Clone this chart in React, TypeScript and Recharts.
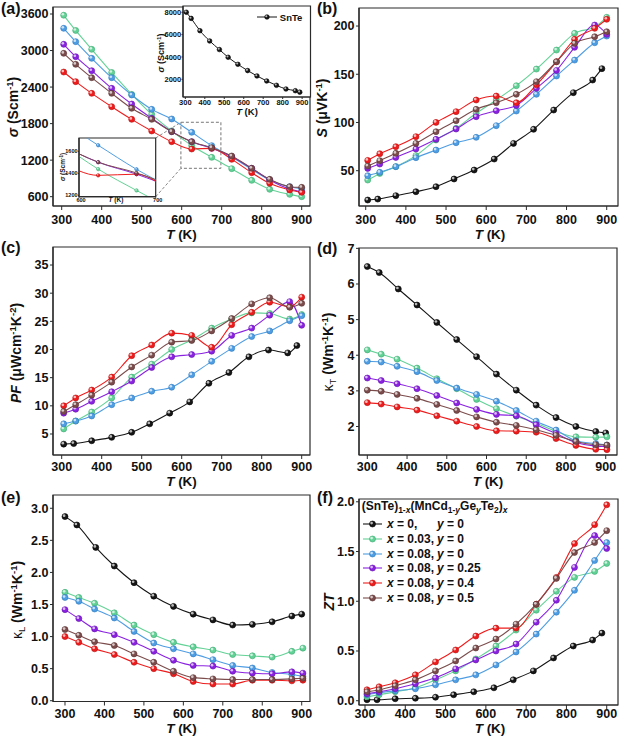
import React from 'react';
import { LineChart, Line, XAxis, YAxis, ReferenceArea, ReferenceLine, Legend } from 'recharts';

const FONT = "'Liberation Sans', Arial, Helvetica, sans-serif";
const AX = '#2b2b2b';

// temperatures (K)
const T_REF = [305, 330, 375, 425, 475, 520, 570, 620, 668, 718, 768, 817, 865, 888];
const T_DOP = [305, 335, 375, 425, 475, 525, 575, 625, 675, 725, 775, 820, 870, 900];
const T_REF_K = [300, 330, 378, 425, 475, 525, 575, 625, 675, 725, 775, 825, 875, 900];
const T_DOP_K = [300, 335, 375, 425, 475, 525, 575, 625, 675, 725, 775, 825, 875, 903];
const X_TICKS = [300, 400, 500, 600, 700, 800, 900];

// samples: (SnTe)1-x(MnCd1-yGeyTe2)x
const SAMPLE_X = ['0', '0.03', '0.08', '0.08', '0.08', '0.08'];
const SAMPLE_Y = ['0', '0', '0', '0.25', '0.4', '0.5'];
const COLORS = ['#161616', '#63d296', '#4f9de2', '#8a22e0', '#ee1c1c', '#7c4c4c'];
const SHADES = ['#000000', '#3aa870', '#2c78c0', '#6510b0', '#b80f0f', '#573030'];

// electrical conductivity (S/cm)
const SIGMA = [
  [8000, 7450, 6350, 5430, 4660, 3970, 3340, 2780, 2300, 1850, 1460, 1130, 980, 850],
  [3580, 3330, 3020, 2640, 2280, 1952, 1680, 1440, 1246, 1060, 868, 721, 638, 600],
  [3365, 3146, 2872, 2554, 2270, 2034, 1876, 1657, 1438, 1250, 1049, 874, 764, 731],
  [3102, 2899, 2669, 2379, 2122, 1887, 1668, 1503, 1394, 1257, 1066, 874, 726, 682],
  [2647, 2489, 2297, 2078, 1870, 1679, 1503, 1383, 1394, 1213, 994, 819, 710, 671],
  [2954, 2773, 2554, 2297, 2051, 1870, 1668, 1503, 1405, 1268, 1066, 885, 764, 753],
];

// Seebeck coefficient (uV/K)
const SEEBECK = [
  [19.6, 20.6, 24.1, 28.2, 33.4, 41.4, 50.7, 62.1, 78.3, 92.9, 112.9, 130.9, 144.0, 155.8],
  [40.3, 47.2, 54.2, 65.6, 81.8, 93.9, 109.5, 123.3, 138.1, 155.4, 175.1, 192.4, 199, 209],
  [44.8, 48.3, 54.2, 63.5, 71.4, 79.0, 84.6, 96.7, 111.9, 129.2, 148.2, 164.7, 182.7, 189.6],
  [52.4, 56.9, 63.8, 72.5, 82.5, 93.2, 106.0, 112.2, 117.7, 135.4, 154.0, 177.9, 201.0, 191.4],
  [60.7, 67.6, 74.9, 85.3, 100.1, 111.2, 123.3, 127.4, 120.5, 139, 163.0, 186.2, 197.6, 207],
  [54.8, 60.4, 68.0, 78.3, 90.4, 101.8, 113.6, 120.5, 129.2, 142.3, 163.0, 182.0, 188.9, 194.1],
];

// power factor (uW cm-1 K-2)
const PF = [
  [3.2, 3.3, 3.8, 4.4, 5.3, 6.8, 8.7, 10.7, 14.0, 15.9, 18.7, 19.9, 19.4, 20.7],
  [5.9, 7.3, 8.9, 11.4, 15.1, 17.4, 20.0, 21.7, 23.8, 25.4, 26.5, 26.4, 25.4, 26.2],
  [6.8, 7.3, 8.2, 10.2, 11.4, 12.6, 13.3, 15.5, 17.9, 20.2, 22.3, 23.3, 25.1, 26.0],
  [8.7, 9.4, 10.8, 12.5, 14.4, 16.8, 18.7, 19.1, 19.7, 22.5, 23.8, 26.1, 28.5, 24.3],
  [10.0, 11.4, 12.8, 15.1, 18.9, 20.8, 22.9, 22.5, 20.4, 24.4, 26.6, 28.4, 27.6, 29.3],
  [9.0, 10.2, 11.9, 14.2, 16.9, 19.0, 21.3, 21.6, 23.3, 25.5, 28.1, 29.2, 27.5, 28.2],
];

// total thermal conductivity (W m-1 K-1)
const KAPPA_T = [
  [6.49, 6.32, 5.86, 5.41, 4.92, 4.44, 3.96, 3.47, 3.02, 2.60, 2.25, 2.00, 1.86, 1.82],
  [4.15, 4.03, 3.89, 3.64, 3.34, 3.06, 2.76, 2.50, 2.29, 2.09, 1.86, 1.71, 1.70, 1.71],
  [3.83, 3.81, 3.69, 3.54, 3.29, 3.08, 2.90, 2.71, 2.45, 2.15, 1.90, 1.60, 1.52, 1.48],
  [3.36, 3.29, 3.20, 3.06, 2.87, 2.66, 2.48, 2.34, 2.30, 2.05, 1.80, 1.55, 1.45, 1.44],
  [2.67, 2.63, 2.55, 2.46, 2.30, 2.15, 2.00, 1.88, 1.87, 1.84, 1.66, 1.47, 1.36, 1.35],
  [3.02, 2.99, 2.90, 2.79, 2.62, 2.45, 2.27, 2.12, 2.03, 1.91, 1.75, 1.58, 1.49, 1.48],
];

// lattice thermal conductivity (W m-1 K-1)
const KAPPA_L = [
  [2.87, 2.74, 2.39, 2.10, 1.84, 1.63, 1.47, 1.35, 1.26, 1.18, 1.19, 1.23, 1.32, 1.35],
  [1.69, 1.61, 1.52, 1.37, 1.18, 1.03, 0.91, 0.84, 0.79, 0.72, 0.70, 0.68, 0.77, 0.82],
  [1.61, 1.55, 1.43, 1.29, 1.08, 0.90, 0.81, 0.73, 0.64, 0.55, 0.51, 0.44, 0.41, 0.38],
  [1.42, 1.28, 1.12, 1.03, 0.91, 0.77, 0.63, 0.55, 0.54, 0.46, 0.43, 0.42, 0.45, 0.43],
  [1.00, 0.91, 0.81, 0.72, 0.60, 0.50, 0.42, 0.30, 0.26, 0.26, 0.32, 0.32, 0.31, 0.32],
  [1.11, 1.02, 0.92, 0.86, 0.73, 0.60, 0.46, 0.36, 0.34, 0.33, 0.33, 0.33, 0.34, 0.35],
];

// figure of merit
const ZT = [
  [0.01, 0.01, 0.02, 0.025, 0.035, 0.06, 0.09, 0.13, 0.21, 0.30, 0.43, 0.55, 0.61, 0.68],
  [0.04, 0.06, 0.09, 0.13, 0.21, 0.30, 0.42, 0.55, 0.71, 0.91, 1.10, 1.24, 1.30, 1.38],
  [0.06, 0.08, 0.10, 0.12, 0.16, 0.21, 0.26, 0.36, 0.49, 0.67, 0.89, 1.11, 1.41, 1.59],
  [0.07, 0.09, 0.12, 0.17, 0.23, 0.32, 0.41, 0.50, 0.57, 0.79, 1.01, 1.34, 1.66, 1.53],
  [0.11, 0.14, 0.18, 0.26, 0.39, 0.51, 0.65, 0.73, 0.73, 0.97, 1.24, 1.58, 1.77, 1.97],
  [0.09, 0.11, 0.15, 0.21, 0.30, 0.40, 0.53, 0.62, 0.77, 0.97, 1.23, 1.49, 1.59, 1.71],
];

type Pt = { t: number; v: number };
type Series = { idx: number; data: Pt[] };

const build = (vals: number[][], tRef: number[], tDop: number[]): Series[] =>
  vals.map((vs, idx) => ({
    idx,
    data: (idx === 0 ? tRef : tDop).map((t, i) => ({ t, v: vs[i] })),
  }));

const sigmaAll = build(SIGMA, T_REF, T_DOP);
const sigmaDoped = sigmaAll.filter((s) => s.idx > 0);
const sigmaRef = sigmaAll.filter((s) => s.idx === 0);

const Ball = ({ cx, cy, r, idx }: { cx: number; cy: number; r: number; idx: number }) => (
  <g>
    <circle cx={cx} cy={cy} r={r} fill={COLORS[idx]} stroke={SHADES[idx]} strokeWidth={0.6} />
    <circle cx={cx - r * 0.3} cy={cy - r * 0.32} r={r * 0.45} fill="#fff" fillOpacity={0.7} />
  </g>
);

const dotFor = (idx: number, r: number) => (p: any) => {
  if (p.cx == null || p.cy == null) return <g key={`d${p.index}`} />;
  return <Ball key={`d${p.index}`} cx={p.cx} cy={p.cy} r={r} idx={idx} />;
};

const MT = 10;

interface PanelProps {
  frame: { l: number; t: number; r: number; b: number };
  xDomain: [number, number];
  yDomain: [number, number];
  xTicks: number[];
  yTicks: number[];
  fmtY?: (v: number) => string;
  series: Series[];
  font?: number;
  yW?: number;
  xH?: number;
  mr?: number;
  xTick?: [number, number];
  yTick?: [number, number];
  xDx?: number;
  dotR?: number;
  lineW?: number;
  bg?: boolean;
  children?: React.ReactNode;
}

const Panel: React.FC<PanelProps> = ({
  frame, xDomain, yDomain, xTicks, yTicks, fmtY, series,
  font = 12.5, yW = 50, xH = 40, mr = 4, xTick = [4, 7.5], yTick = [3, 1.5], xDx = 0,
  dotR = 3, lineW = 1.1, bg = false, children,
}) => {
  const w = yW + (frame.r - frame.l) + mr;
  const h = MT + (frame.b - frame.t) + xH;
  const tickStyle = { fontSize: font, fontWeight: 700, fill: '#111', fontFamily: FONT };
  return (
    <>
      {bg && (
        <div
          style={{
            position: 'absolute', left: frame.l, top: frame.t,
            width: frame.r - frame.l, height: frame.b - frame.t, background: '#fff',
          }}
        />
      )}
      <div style={{ position: 'absolute', left: frame.l - yW, top: frame.t - MT }}>
        <LineChart width={w} height={h} margin={{ top: MT, right: mr, bottom: 0, left: 0 }}>
          <XAxis
            type="number" dataKey="t" domain={xDomain} ticks={xTicks} allowDataOverflow
            interval={0} height={xH} tick={{ ...tickStyle, dx: xDx }} tickSize={xTick[0]} tickMargin={xTick[1]}
            axisLine={{ stroke: AX, strokeWidth: 1.2 }} tickLine={{ stroke: AX, strokeWidth: 1 }}
          />
          <YAxis
            type="number" domain={yDomain} ticks={yTicks} allowDataOverflow interval={0}
            width={yW} tick={tickStyle} tickFormatter={fmtY} tickSize={yTick[0]} tickMargin={yTick[1]}
            axisLine={{ stroke: AX, strokeWidth: 1.2 }} tickLine={{ stroke: AX, strokeWidth: 1 }}
          />
          <ReferenceArea
            x1={xDomain[0]} x2={xDomain[1]} y1={yDomain[0]} y2={yDomain[1]}
            fill="none" fillOpacity={0} stroke={AX} strokeWidth={1.2} ifOverflow="visible"
          />
          {children}
          {series.map((s) => (
            <Line
              key={s.idx}
              data={s.data}
              dataKey="v"
              name={`x=${SAMPLE_X[s.idx]}, y=${SAMPLE_Y[s.idx]}`}
              type="monotone"
              stroke={COLORS[s.idx]}
              strokeWidth={lineW}
              dot={dotFor(s.idx, dotR)}
              activeDot={false}
              isAnimationActive={false}
            />
          ))}
        </LineChart>
      </div>
    </>
  );
};

const SUB: React.CSSProperties = { fontSize: 8.5, verticalAlign: 'sub', lineHeight: 0 };

const MainLegend = (props: any) => {
  const payload = props.payload || [];
  return (
    <div style={{ fontFamily: FONT, fontWeight: 700, fontSize: 12, color: '#111', whiteSpace: 'nowrap' }}>
      <div style={{ lineHeight: '15px', height: 15 }}>
        (SnTe)<span style={SUB}>1-<i>x</i></span>(MnCd<span style={SUB}>1-<i>y</i></span>Ge
        <span style={SUB}><i>y</i></span>Te<span style={SUB}>2</span>)<span style={SUB}><i>x</i></span>
      </div>
      <div style={{ height: 3.5 }} />
      {payload.map((e: any, k: number) => {
        const idx = COLORS.indexOf(e.color) >= 0 ? COLORS.indexOf(e.color) : k;
        return (
          <div key={k} style={{ display: 'flex', alignItems: 'center', height: 14.7, paddingLeft: 1.3 }}>
            <svg width={21} height={10} style={{ overflow: 'visible' }}>
              <line x1={0} y1={5} x2={19} y2={5} stroke={COLORS[idx]} strokeWidth={1.1} />
              <Ball cx={9.5} cy={5} r={3} idx={idx} />
            </svg>
            <span style={{ display: 'inline-block', width: 50, marginLeft: 3 }}>
              <i>x</i> = {SAMPLE_X[idx]},
            </span>
            <span>
              <i>y</i> = {SAMPLE_Y[idx]}
            </span>
          </div>
        );
      })}
    </div>
  );
};

const SnTeLegend = () => (
  <div style={{ display: 'flex', alignItems: 'center', height: 14, fontFamily: FONT, fontWeight: 700, fontSize: 9.5, color: '#111' }}>
    <svg width={20} height={10} style={{ overflow: 'visible' }}>
      <line x1={0} y1={5} x2={20} y2={5} stroke={COLORS[0]} strokeWidth={1} />
      <Ball cx={10} cy={5} r={2.3} idx={0} />
    </svg>
    <span style={{ marginLeft: 3.3 }}>SnTe</span>
  </div>
);

type Part = { s: string; it?: boolean; sup?: boolean; sub?: boolean; reg?: boolean };

const Rich: React.FC<{ x: number; y: number; size: number; parts: Part[]; rot?: boolean }> = ({ x, y, size, parts, rot }) => {
  let cur = 0;
  const spans = parts.map((p, k) => {
    const target = p.sup ? -0.38 * size : p.sub ? 0.24 * size : 0;
    const dy = target - cur;
    cur = target;
    return (
      <tspan
        key={k}
        dy={dy}
        fontStyle={p.it ? 'italic' : 'normal'}
        fontWeight={p.reg ? 400 : 700}
        fontSize={p.sup || p.sub ? size * 0.68 : size}
      >
        {p.s}
      </tspan>
    );
  });
  const bx = rot ? x + size * 0.35 : x;
  const by = rot ? y : y + size * 0.35;
  return (
    <text
      x={bx} y={by} textAnchor="middle" fontFamily={FONT} fill="#111"
      transform={rot ? `rotate(-90 ${bx} ${by})` : undefined}
    >
      {spans}
    </text>
  );
};

const TK: Part[] = [{ s: 'T', it: true }, { s: ' (K)' }];
const PER_MK: Part[] = [{ s: ' (Wm' }, { s: '-1', sup: true }, { s: 'K' }, { s: '-1', sup: true }, { s: ')' }];
const SIGMA_T: Part[] = [{ s: 'σ', it: true }, { s: ' (Scm' }, { s: '-1', sup: true }, { s: ')' }];

const f1 = (v: number) => v.toFixed(1);

export default function App() {
  return (
    <div style={{ position: 'absolute', left: 0, top: 0, width: 620, height: 736, background: '#fff', overflow: 'hidden' }}>
      {/* (a) electrical conductivity */}
      <Panel
        frame={{ l: 53, t: 7, r: 310, b: 206 }}
        xDomain={[278.25, 920.75]}
        yDomain={[447, 3715]}
        xTicks={X_TICKS}
        yTicks={[600, 1200, 1800, 2400, 3000, 3600]}
        series={sigmaDoped}
        xTick={[4, 5.6]}
      >
        <ReferenceArea
          x1={598} x2={698} y1={1066} y2={1822}
          fill="none" fillOpacity={0} stroke="#777" strokeWidth={1} strokeDasharray="3 2" ifOverflow="visible"
        />
        <ReferenceLine
          segment={[{ x: 535, y: 1564 }, { x: 598, y: 1822 }]}
          stroke="#888" strokeDasharray="3 2" ifOverflow="visible"
        />
        <ReferenceLine
          segment={[{ x: 535, y: 600 }, { x: 598, y: 1066 }]}
          stroke="#888" strokeDasharray="3 2" ifOverflow="visible"
        />
      </Panel>
      {/* (a) inset: pristine SnTe */}
      <Panel
        frame={{ l: 182.5, t: 6, r: 310, b: 97 }}
        xDomain={[288, 943]}
        yDomain={[415, 8560]}
        xTicks={X_TICKS}
        yTicks={[2000, 4000, 6000, 8000]}
        series={sigmaRef}
        font={7.5}
        yW={26}
        xH={14}
        xTick={[2, 0.9]}
        yTick={[1.5, 0.3]}
        dotR={2.3}
        lineW={1}
        bg
      >
        <Legend
          layout="vertical" align="center" verticalAlign="middle"
          wrapperStyle={{ position: 'absolute', left: 100, top: 14, width: 'auto', height: 'auto' }}
          content={SnTeLegend}
        />
      </Panel>
      {/* (a) zoomed inset 600-700 K */}
      <Panel
        frame={{ l: 79, t: 138, r: 155.7, b: 196.7 }}
        xDomain={[600, 700]}
        yDomain={[1189, 1723]}
        xTicks={[600, 700]}
        yTicks={[1200, 1400, 1600]}
        series={sigmaDoped}
        font={5.5}
        yW={16}
        xH={8}
        mr={14}
        xTick={[1, 0.8]}
        xDx={2}
        yTick={[1, 0.5]}
        dotR={1.7}
        lineW={1}
        bg
      />

      {/* (b) Seebeck */}
      <Panel
        frame={{ l: 359, t: 8, r: 618, b: 206 }}
        xDomain={[283.3, 928.1]}
        yDomain={[13.4, 218.7]}
        xTicks={X_TICKS}
        yTicks={[50, 100, 150, 200]}
        series={build(SEEBECK, T_REF, T_DOP)}
        xTick={[4, 5.6]}
      />

      {/* (c) power factor */}
      <Panel
        frame={{ l: 53, t: 247, r: 310, b: 455 }}
        xDomain={[278.25, 920.75]}
        yDomain={[1.27, 38.2]}
        xTicks={X_TICKS}
        yTicks={[5, 10, 15, 20, 25, 30, 35]}
        series={build(PF, T_REF, T_DOP)}
        xTick={[4, 3.1]}
      />

      {/* (d) total thermal conductivity */}
      <Panel
        frame={{ l: 359, t: 248, r: 617, b: 455 }}
        xDomain={[279.1, 928.4]}
        yDomain={[1.2, 7.01]}
        xTicks={X_TICKS}
        yTicks={[2, 3, 4, 5, 6, 7]}
        series={build(KAPPA_T, T_REF_K, T_DOP_K)}
        xTick={[4, 3.1]}
      />

      {/* (e) lattice thermal conductivity */}
      <Panel
        frame={{ l: 53, t: 495, r: 310, b: 701.5 }}
        xDomain={[269.6, 921]}
        yDomain={[-0.012, 3.207]}
        xTicks={X_TICKS}
        yTicks={[0, 0.5, 1, 1.5, 2, 2.5, 3]}
        fmtY={f1}
        series={build(KAPPA_L, T_REF_K, T_DOP_K)}
        xTick={[4, 4.1]}
      />

      {/* (f) ZT */}
      <Panel
        frame={{ l: 359, t: 499, r: 618, b: 705 }}
        xDomain={[285.1, 928]}
        yDomain={[-0.043, 2.028]}
        xTicks={X_TICKS}
        yTicks={[0, 0.5, 1, 1.5, 2]}
        fmtY={f1}
        series={build(ZT, T_REF, T_DOP)}
        xTick={[4, 0.6]}
      >
        <Legend
          layout="vertical" align="center" verticalAlign="middle"
          wrapperStyle={{ position: 'absolute', left: 52.7, top: MT - 0.5, width: 'auto', height: 'auto' }}
          content={MainLegend}
        />
      </Panel>

      {/* titles */}
      <svg width={620} height={736} style={{ position: 'absolute', left: 0, top: 0, pointerEvents: 'none' }}>
        <g fontFamily={FONT} fontWeight={700} fontSize={16} fill="#111">
          <text x={1} y={14}>(a)</text>
          <text x={317} y={14}>(b)</text>
          <text x={1} y={253}>(c)</text>
          <text x={317} y={254}>(d)</text>
          <text x={1} y={503}>(e)</text>
          <text x={317} y={503}>(f)</text>
        </g>

        <Rich x={13} y={107} size={14} rot parts={SIGMA_T} />
        <Rich x={322} y={108} size={14} rot parts={[{ s: 'S', it: true }, { s: ' (μVK' }, { s: '-1', sup: true }, { s: ')' }]} />
        <Rich
          x={16} y={353} size={14} rot
          parts={[{ s: 'PF', it: true }, { s: ' (μWcm' }, { s: '-1', sup: true }, { s: 'K' }, { s: '-2', sup: true }, { s: ')' }]}
        />
        <Rich x={328} y={352} size={14} rot parts={[{ s: 'κ', reg: true }, { s: 'T', sub: true, reg: true }, ...PER_MK]} />
        <Rich x={17} y={600} size={14} rot parts={[{ s: 'κ', reg: true }, { s: 'L', sub: true, reg: true }, ...PER_MK]} />
        <Rich x={329} y={602} size={14} rot parts={[{ s: 'ZT', it: true }]} />

        <Rich x={181.5} y={234.5} size={13.5} parts={TK} />
        <Rich x={490} y={234.5} size={13.5} parts={TK} />
        <Rich x={181.5} y={481} size={13.5} parts={TK} />
        <Rich x={488} y={481} size={13.5} parts={TK} />
        <Rich x={181.5} y={728.5} size={13.5} parts={TK} />
        <Rich x={490} y={728.5} size={13.5} parts={TK} />

        {/* inset titles */}
        <Rich x={247} y={112} size={9.5} parts={TK} />
        <Rich x={161} y={53} size={9} rot parts={SIGMA_T} />
        <Rich x={116} y={200} size={6.5} parts={TK} />
        <Rich x={63} y={167} size={6.5} rot parts={SIGMA_T} />
      </svg>
    </div>
  );
}
